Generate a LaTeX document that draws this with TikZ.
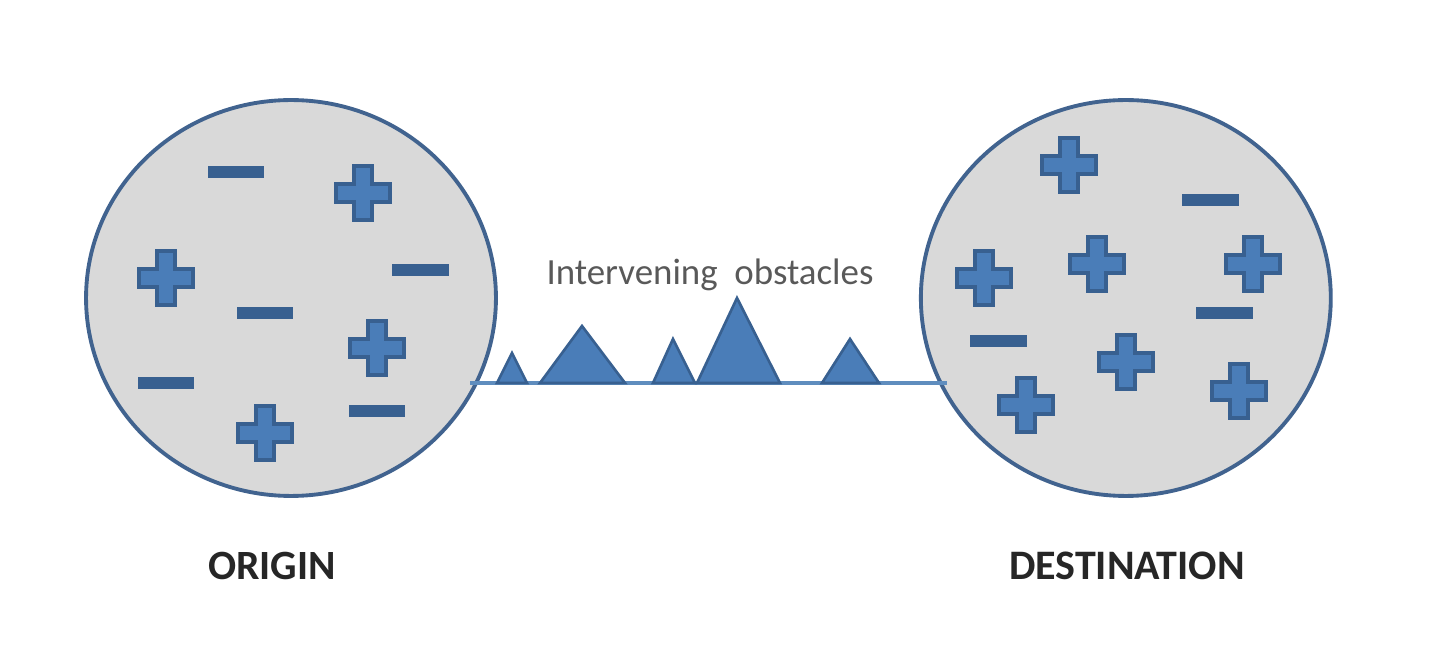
\documentclass[tikz,border=0pt]{standalone}
\usepackage{fontspec}
\setmainfont{Carlito}
\usetikzlibrary{positioning, shapes.geometric}
\definecolor{ringblue}{HTML}{41638F}
\definecolor{signblue}{HTML}{4A7DB8}
\definecolor{signedge}{HTML}{386090}
\definecolor{discgray}{HTML}{D9D9D9}
\definecolor{lineblue}{HTML}{5F8DBE}
\tikzset{main node/.style={ellipse, draw=ringblue, fill=discgray, line width=2.2pt, minimum width=8.2cm, minimum height=7.92cm, inner sep=0pt, outer sep=0pt},
minus node/.style={rectangle, fill=signedge, minimum width=1.14cm, minimum height=0.25cm, inner sep=0pt},
obstacle/.style={draw=signedge, fill=signblue, line width=1.5pt, line join=miter},
plus sign/.pic={\draw[draw=signedge, fill=signblue, line width=2pt]
	(-9,-27) -- (9,-27) -- (9,-9) -- (27,-9) -- (27,9) -- (9,9) -- (9,27) -- (-9,27) -- (-9,9) -- (-27,9) -- (-27,-9) -- (-9,-9) -- cycle;},
}
\begin{document}
\begin{tikzpicture}[x=0.02cm, y=-0.02cm]
	\useasboundingbox (0,0) rectangle (1440,671);
	% Discs
	\node[main node] (origin) at (291,298) {};
	\node[main node] [right = 8.5cm of origin] (destination) {};
	% Obstacles
	\coordinate (groundl) at (470,383);
	\coordinate (groundr) at (947,383);
	\draw[lineblue, line width=2.2pt] (groundl) -- (groundr);
	\draw[obstacle] (497,383) -- (512,353) -- (527,383) -- cycle;
	\draw[obstacle] (540,383) -- (582,326) -- (625,383) -- cycle;
	\draw[obstacle] (653,383) -- (673,339) -- (695,383) -- cycle;
	\draw[obstacle] (697,383) -- (737,298) -- (780,383) -- cycle;
	\draw[obstacle] (822,383) -- (850,339) -- (879,383) -- cycle;
	% Signs
	\foreach \x/\y in {363/193, 166/278, 377/348, 265/433, 1069/165, 984/278, 1097/264, 1253/264, 1126/362, 1026/405, 1239/391}
		\pic at (\x,\y) {plus sign};
	\foreach \x/\y [count=\i] in {236/172, 420/270, 265/313, 166/383, 377/411, 1210/200, 1224/313, 998/341}
		\node[minus node] (minus\i) at (\x,\y) {};
	% Labels
	\node[text=black!85, font=\fontsize{23.7}{28}\selectfont\bfseries] (originlabel) at (272,566) {ORIGIN};
	\node[text=black!85, font=\fontsize{23.9}{28}\selectfont\bfseries] (destinationlabel) at (1127,566) {DESTINATION};
	\node[text=black!65, font=\fontsize{21}{25}\selectfont] (obstacleslabel) at (710,275) {Intervening\ \ obstacles};
\end{tikzpicture}
\end{document}
